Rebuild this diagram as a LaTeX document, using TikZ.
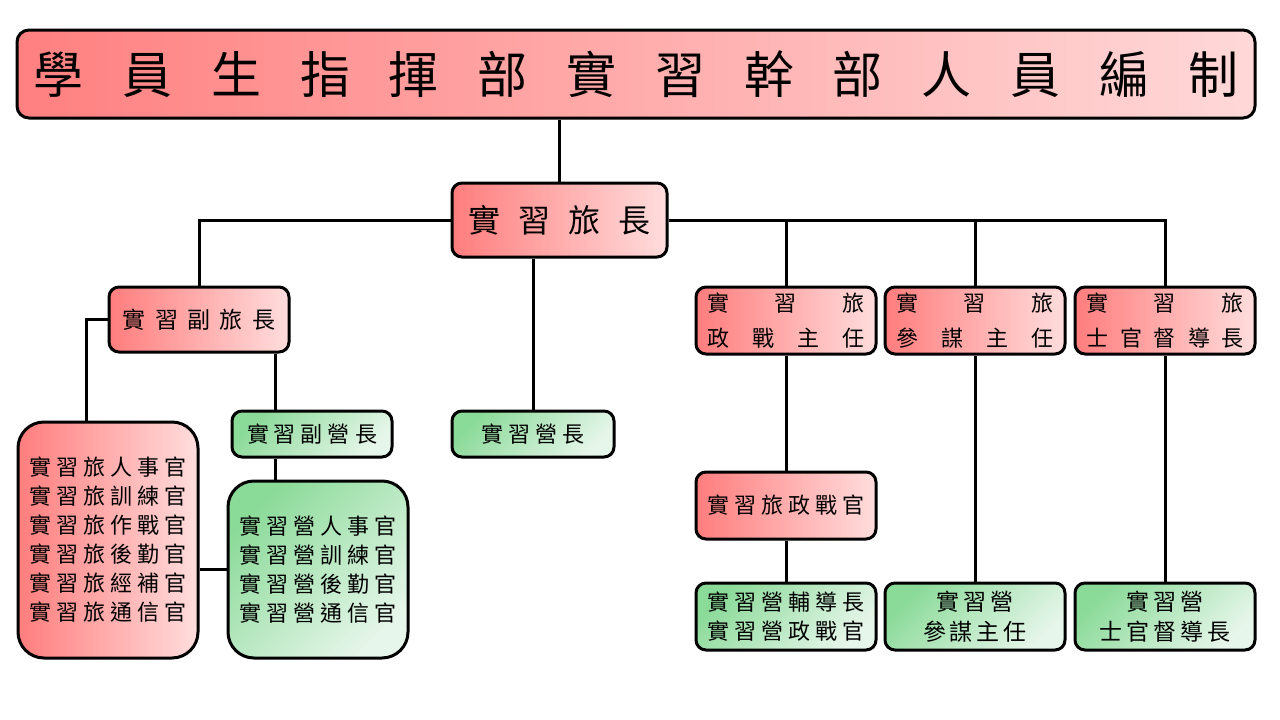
\documentclass[tikz,border=0pt]{standalone}
\usepackage{fontspec}
\newfontfamily\cjk{Noto Sans CJK TC}
\makeatletter
\newcommand\lsp[2]{\def\ls@gap{#1}\ls@go#2\relax}
\def\ls@go#1{\ifx#1\relax\unskip\else#1\hskip\ls@gap\relax\expandafter\ls@go\fi}
\makeatother
\newcommand\jline[1]{\makebox[158pt][s]{#1}}
\definecolor{rL}{RGB}{255,125,125}
\definecolor{rR}{RGB}{255,221,221}
\definecolor{tL}{RGB}{255,128,128}
\definecolor{tR}{RGB}{255,216,216}
\definecolor{gTL}{RGB}{138,218,152}
\definecolor{gBR}{RGB}{230,246,234}
\tikzset{
  boxbase/.style={draw=black, line width=3pt, rounded corners=10pt, inner sep=0pt, align=center,
    font=\cjk\fontsize{22}{29}\selectfont},
  redbox/.style={boxbase, left color=rL, right color=rR},
  greenbox/.style={boxbase, top color=gTL, bottom color=gBR, shading angle=45},
  conn/.style={draw=black, line width=3pt},
}
\begin{document}
\begin{tikzpicture}[x=1pt,y=-1pt]
\fill[white] (0,0) rectangle (1280,720);
\useasboundingbox (0,0) rectangle (1280,720);
% title
\node[boxbase, left color=tL, right color=tR, rounded corners=12pt,
  minimum width=1238pt, minimum height=88pt, font=\cjk\fontsize{50}{54}\selectfont]
  (title) at (636,74) {\lsp{38.8pt}{學員生指揮部實習幹部人員編制}};
% chief
\node[redbox, minimum width=215pt, minimum height=74pt, font=\cjk\fontsize{32}{34}\selectfont]
  (chief) at (559.5,220) {\lsp{18pt}{實習旅長}};
% deputy brigade
\node[redbox, minimum width=180pt, minimum height=65pt, font=\cjk\fontsize{23}{25}\selectfont]
  (fu) at (199,319.5) {\lsp{9.5pt}{實習副旅長}};
% brigade staff
\node[redbox, rounded corners=26pt, minimum width=180pt, minimum height=236pt]
  (lvstaff) at (108,540) {\lsp{5pt}{實習旅人事官}\\\lsp{5pt}{實習旅訓練官}\\\lsp{5pt}{實習旅作戰官}\\\lsp{5pt}{實習旅後勤官}\\\lsp{5pt}{實習旅經補官}\\\lsp{5pt}{實習旅通信官}};
% deputy battalion
\node[greenbox, minimum width=160pt, minimum height=46pt]
  (fuying) at (312,434) {\lsp{5pt}{實習副營長}};
% battalion staff
\node[greenbox, rounded corners=26pt, minimum width=180pt, minimum height=177pt]
  (yingstaff) at (318,569.5) {\lsp{5pt}{實習營人事官}\\\lsp{5pt}{實習營訓練官}\\\lsp{5pt}{實習營後勤官}\\\lsp{5pt}{實習營通信官}};
% battalion commander
\node[greenbox, minimum width=162pt, minimum height=46pt]
  (yz) at (533,434) {\lsp{5pt}{實習營長}};
% right branches
\node[redbox, minimum width=180pt, minimum height=67pt, font=\cjk\fontsize{22}{35}\selectfont]
  (pz) at (786,320.5) {\jline{實\hfill 習\hfill 旅}\\\jline{政\hfill 戰\hfill 主\hfill 任}};
\node[redbox, minimum width=180pt, minimum height=67pt, font=\cjk\fontsize{22}{35}\selectfont]
  (cm) at (975,320.5) {\jline{實\hfill 習\hfill 旅}\\\jline{參\hfill 謀\hfill 主\hfill 任}};
\node[redbox, minimum width=180pt, minimum height=67pt, font=\cjk\fontsize{22}{35}\selectfont]
  (sg) at (1165,320.5) {\jline{實\hfill 習\hfill 旅}\\\jline{士\hfill 官\hfill 督\hfill 導\hfill 長}};
\node[redbox, minimum width=180pt, minimum height=67pt]
  (pzg) at (786,505.5) {\lsp{5pt}{實習旅政戰官}};
\node[greenbox, minimum width=180pt, minimum height=67pt]
  (b1) at (786,616.5) {\lsp{5pt}{實習營輔導長}\\\lsp{5pt}{實習營政戰官}};
\node[greenbox, minimum width=180pt, minimum height=67pt, font=\cjk\fontsize{23}{30}\selectfont]
  (b2) at (975,616.5) {\lsp{4pt}{實習營}\\\lsp{4pt}{參謀主任}};
\node[greenbox, minimum width=180pt, minimum height=67pt, font=\cjk\fontsize{23}{30}\selectfont]
  (b3) at (1165,616.5) {\lsp{4pt}{實習營}\\\lsp{4pt}{士官督導長}};
% connectors
\coordinate (c1) at ([xshift=76pt]fu.south);
\coordinate (c2) at ([xshift=-22pt]lvstaff.north);
\draw[conn] (title.south -| chief.north) -- (chief.north);
\draw[conn] (chief.west) -| (fu.north);
\draw[conn] (chief.east) -| (sg.north);
\draw[conn] (pz.north) -- (pz.north |- chief.east);
\draw[conn] (cm.north) -- (cm.north |- chief.east);
\draw[conn] (chief.south -| yz.north) -- (yz.north);
\draw[conn] (fu.west) -| (c2);
\draw[conn] (c1) -- (c1 |- fuying.north);
\draw[conn] (c1 |- fuying.south) -- (c1 |- yingstaff.north);
\draw[conn] (yingstaff.west) -- (yingstaff.west -| lvstaff.east);
\draw[conn] (pz.south) -- (pzg.north);
\draw[conn] (pzg.south) -- (b1.north);
\draw[conn] (cm.south) -- (b2.north);
\draw[conn] (sg.south) -- (b3.north);
\end{tikzpicture}
\end{document}
